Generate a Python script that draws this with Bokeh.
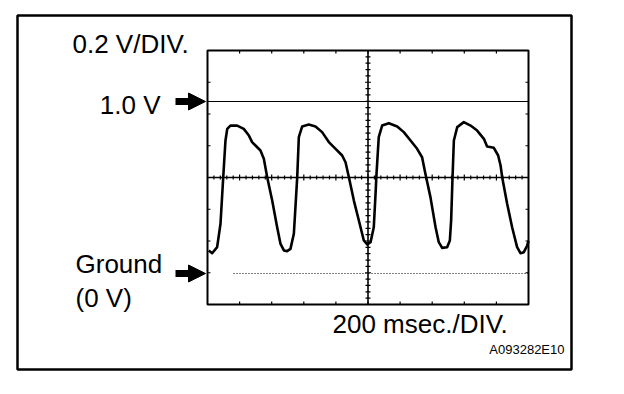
from bokeh.plotting import figure
from bokeh.models import Range1d, Arrow, NormalHead
from bokeh.core.properties import value
from bokeh.embed import file_html
from bokeh.resources import INLINE

# ---------------- data ----------------
time_ms = [8, 29, 60, 81, 98, 112, 123, 143, 185, 226, 258, 278, 299, 330, 351,
           372, 403, 434, 455, 476, 496, 517, 538, 548, 559, 569, 590, 631, 673,
           714, 756, 798, 839, 860, 881, 912, 943, 974, 995, 1016, 1036, 1047,
           1053, 1067, 1088, 1130, 1182, 1223, 1265, 1306, 1337, 1358, 1389,
           1421, 1441, 1462, 1493, 1510, 1518, 1526, 1535, 1556, 1597, 1639,
           1680, 1722, 1742, 1784, 1811, 1826, 1836, 1867, 1898, 1929, 1950,
           1971, 1992, 2000]
volts = [0.134, 0.118, 0.153, 0.289, 0.560, 0.773, 0.841, 0.860, 0.860, 0.841,
         0.802, 0.764, 0.744, 0.715, 0.667, 0.560, 0.424, 0.269, 0.172, 0.134,
         0.130, 0.143, 0.231, 0.386, 0.560, 0.793, 0.855, 0.866, 0.855, 0.822,
         0.764, 0.725, 0.686, 0.647, 0.560, 0.424, 0.308, 0.192, 0.169, 0.182,
         0.269, 0.463, 0.579, 0.793, 0.860, 0.874, 0.855, 0.822, 0.773, 0.725,
         0.676, 0.579, 0.444, 0.269, 0.182, 0.149, 0.153, 0.192, 0.308, 0.541,
         0.773, 0.851, 0.880, 0.860, 0.831, 0.783, 0.738, 0.731, 0.686, 0.628,
         0.560, 0.405, 0.269, 0.153, 0.118, 0.124, 0.163, 0.190]

ms_per_div = 200
n_xdiv = 10
n_ydiv = 8
ref_level_v = 1.0
ground_v = 0.0
label_vdiv = "0.2 V/DIV."
label_tdiv = "200 msec./DIV."
label_ref = "1.0 V"
label_gnd = ["Ground", "(0 V)"]
label_code = "A093282E10"

# ---------------- layout (page pixels) ----------------
FRAME_L, FRAME_R, FRAME_T, FRAME_B = 17, 571, 15, 369
SC_L, SC_R, SC_T, SC_B = 207, 528, 50, 304
Y_GND, Y_REF = 273, 101
TXT_SHIFT = 9  # compensation for glyph baseline placement

px_per_ms = (SC_R - SC_L) / (n_xdiv * ms_per_div)
px_per_v = (Y_GND - Y_REF) / (ref_level_v - ground_v)


def t_of(x):
    return (x - SC_L) / px_per_ms


def v_of(y):
    return ground_v + (Y_GND - y) / px_per_v


p = figure(width=574, height=372,
           x_range=Range1d(FRAME_L, FRAME_R), y_range=Range1d(FRAME_B, FRAME_T),
           x_axis_location=None, y_axis_location=None,
           output_backend="svg", toolbar_location=None,
           min_border_left=17, min_border_right=3, min_border_top=15, min_border_bottom=3)
p.extra_x_ranges = {"t": Range1d(t_of(FRAME_L), t_of(FRAME_R))}
p.extra_y_ranges = {"v": Range1d(v_of(FRAME_B), v_of(FRAME_T))}
p.grid.visible = False
p.outline_line_color = "black"
p.outline_line_width = 2.5
p.background_fill_color = "white"
p.border_fill_color = "white"

R = dict(x_range_name="t", y_range_name="v")
t0, t1 = 0, n_xdiv * ms_per_div
vb, vt = v_of(SC_B), v_of(SC_T)
dv = (vt - vb) / n_ydiv
dt = ms_per_div
px_t = 1 / px_per_ms
px_v = 1 / px_per_v

# scope screen border
p.quad(left=t0, right=t1, bottom=vb, top=vt, fill_color=None,
       line_color="black", line_width=2, **R)

# border ticks
xs0, xs1, ys0, ys1 = [], [], [], []
for i in range(1, n_xdiv):
    t = i * dt
    xs0 += [t, t]; xs1 += [t, t]
    ys0 += [vt, vb]; ys1 += [vt - 3 * px_v, vb + 3 * px_v]
for j in range(1, n_ydiv):
    v = vb + j * dv
    xs0 += [t0, t1]; xs1 += [t0 + 3 * px_t, t1 - 3 * px_t]
    ys0 += [v, v]; ys1 += [v, v]
p.segment(x0=xs0, y0=ys0, x1=xs1, y1=ys1, line_color="black", line_width=1.2, **R)

# centre cross-hair
vmid = vb + 4 * dv
tmid = 5 * dt
p.segment(x0=[t0], y0=[vmid], x1=[t1], y1=[vmid], line_color="black", line_width=1.3, **R)
p.segment(x0=[tmid], y0=[vb], x1=[tmid], y1=[vt], line_color="black", line_width=1.6, **R)

hx0, hx1, hy0, hy1 = [], [], [], []
for k in range(1, n_xdiv * 5):
    t = k * dt / 5
    h = 3 if k % 5 == 0 else 2
    hx0.append(t); hx1.append(t)
    hy0.append(vmid - h * px_v); hy1.append(vmid + h * px_v)
for k in range(1, n_ydiv * 5):
    v = vb + k * dv / 5
    h = 3 if k % 5 == 0 else 2.5
    hx0.append(tmid - h * px_t); hx1.append(tmid + h * px_t)
    hy0.append(v); hy1.append(v)
p.segment(x0=hx0, y0=hy0, x1=hx1, y1=hy1, line_color="black", line_width=1.2, **R)

# reference level and ground level
p.segment(x0=[t0], y0=[ref_level_v], x1=[t1], y1=[ref_level_v],
          line_color="black", line_width=1.2, **R)
p.segment(x0=[t_of(233)], y0=[ground_v], x1=[t1], y1=[ground_v],
          line_color="black", line_width=1, line_dash="1 2", **R)

# waveform
p.line(time_ms, volts, line_color="black", line_width=2.6, line_join="round", **R)

# arrows
for lvl in (ref_level_v, ground_v):
    p.add_layout(Arrow(x_start=175, x_end=205, y_start=lvl, y_end=lvl,
                       y_range_name="v", line_color="black", line_width=7,
                       end=NormalHead(size=17, fill_color="black", line_color="black",
                                      line_width=1)))

# texts
big = dict(text_font=value("Liberation Sans"), text_font_size="26px",
           text_color="black", text_baseline="alphabetic")
p.text(x=[72], y=[52 - TXT_SHIFT], text=[label_vdiv], text_align="left", **big)
p.text(x=[160], y=[113 - TXT_SHIFT], text=[label_ref], text_align="right", **big)
p.text(x=[75, 75], y=[272 - TXT_SHIFT, 306 - TXT_SHIFT], text=label_gnd,
       text_align="left", **big)
p.text(x=[332], y=[332 - TXT_SHIFT], text=[label_tdiv], text_align="left", **big)
p.text(x=[564], y=[353 - 4], text=[label_code], text_align="right",
       text_font=value("Liberation Sans"), text_font_size="13px",
       text_color="black", text_baseline="alphabetic")

open("out.html", "w").write(file_html(p, INLINE))
